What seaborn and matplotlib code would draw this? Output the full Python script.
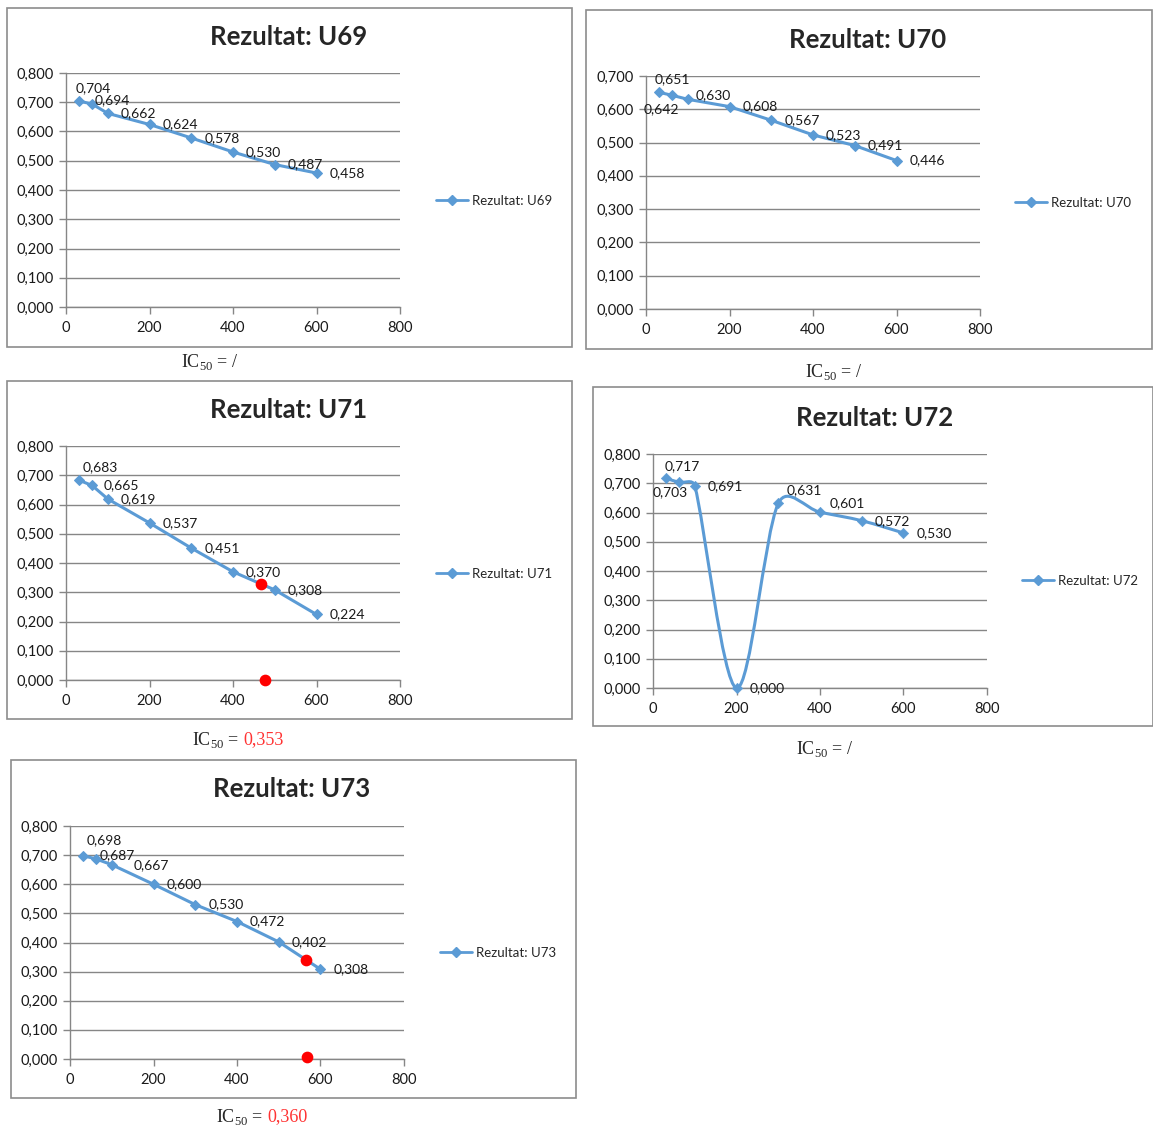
import matplotlib
matplotlib.use("Agg")
import matplotlib.pyplot as plt
import numpy as np
import pandas as pd
import seaborn as sns
from matplotlib.path import Path
from matplotlib.patches import PathPatch, Rectangle
from matplotlib.lines import Line2D
from matplotlib.ticker import FuncFormatter, MultipleLocator

# Data
conc = [31.25, 62.5, 100, 200, 300, 400, 500, 600]
u69 = [0.704, 0.694, 0.662, 0.624, 0.578, 0.530, 0.487, 0.458]
u70 = [0.651, 0.642, 0.630, 0.608, 0.567, 0.523, 0.491, 0.446]
u71 = [0.683, 0.665, 0.619, 0.537, 0.451, 0.370, 0.308, 0.224]
u72 = [0.717, 0.703, 0.691, 0.000, 0.631, 0.601, 0.572, 0.530]
u73 = [0.698, 0.687, 0.667, 0.600, 0.530, 0.472, 0.402, 0.308]

# red IC50 marks (on the curve and on the x axis)
u71_mark_x = [468, 477]
u71_mark_y = [0.328, 0.0]
u73_mark_x = [565, 567]
u73_mark_y = [0.339, 0.007]

ic50_u71 = "0,353"
ic50_u73 = "0,360"

W, H = 1153, 1131
BLUE = "#5B9BD5"
GRAY = "#868686"

sns.set_theme(style="white")
plt.rcParams["font.family"] = ["Lato", "DejaVu Sans"]
plt.rcParams["mathtext.fontset"] = "custom"
plt.rcParams["mathtext.rm"] = "Liberation Serif"

fig = plt.figure(figsize=(W / 100, H / 100), dpi=100)


def px_box(l, t, r, b):
    return [l / W, 1 - b / H, (r - l) / W, (b - t) / H]


def fmt(v):
    return f"{v:.3f}".replace(".", ",")


def clamp(vec, limit):
    n = np.hypot(*vec)
    return vec if n <= limit else vec * limit / n


def smooth_path(ax, xs, ys):
    # Excel-like smoothed line: catmull-rom bezier, control arms kept short
    pts = ax.transData.transform(np.column_stack([xs, ys]))
    n = len(pts)
    verts = [pts[0]]
    codes = [Path.MOVETO]
    for i in range(n - 1):
        p0, p1 = pts[max(i - 1, 0)], pts[i]
        p2, p3 = pts[i + 1], pts[min(i + 2, n - 1)]
        half = np.hypot(*(p2 - p1)) / 2
        c1 = p1 + clamp((p2 - p0) / 6, half)
        c2 = p2 - clamp((p3 - p1) / 6, half)
        verts += [c1, c2, p2]
        codes += [Path.CURVE4] * 3
    data = ax.transData.inverted().transform(np.array(verts))
    return Path(data, codes)


def panel(name, ys, axbox, frame, title_xy, legend_xy, caption_xy, ymax,
          offsets, ic50=None, marks=None, smooth=False):
    l, t, r, b = frame
    fig.patches.append(Rectangle((l / W, 1 - b / H), (r - l) / W, (b - t) / H,
                                 transform=fig.transFigure, fill=False,
                                 ec="#8c8c8c", lw=1.2))
    ax = fig.add_axes(px_box(*axbox))
    ax.set_xlim(0, 800)
    ax.set_ylim(0, ymax)
    df = pd.DataFrame({"x": conc, "y": ys})
    if smooth:
        ax.add_patch(PathPatch(smooth_path(ax, conc, ys), fill=False, ec=BLUE,
                               lw=2.2, clip_on=False))
        sns.scatterplot(data=df, x="x", y="y", ax=ax, marker="D", s=28,
                        color=BLUE, edgecolor=BLUE, zorder=3, clip_on=False)
    else:
        sns.lineplot(data=df, x="x", y="y", ax=ax, marker="D", markersize=5.2,
                     color=BLUE, lw=2.2, markeredgecolor=BLUE)
    if marks is not None:
        ax.scatter(marks[0], marks[1], s=55, color="#ff0000", zorder=5, clip_on=False)
    for i, (xv, yv) in enumerate(zip(conc, ys)):
        dx, dy = offsets.get(i, (13, 0))
        ax.annotate(fmt(yv), (xv, yv), xytext=(dx, dy), textcoords="offset pixels",
                    ha="left", va="center", fontsize=10, color="#1a1a1a")
    ax.set_xlim(0, 800)
    ax.set_ylim(0, ymax)
    ax.xaxis.set_major_locator(MultipleLocator(200))
    ax.yaxis.set_major_locator(MultipleLocator(0.1))
    ax.yaxis.set_major_formatter(FuncFormatter(lambda v, p: fmt(v)))
    ax.set_xlabel("")
    ax.set_ylabel("")
    ax.grid(axis="y", color=GRAY, lw=1)
    ax.set_axisbelow(True)
    for s in ["top", "right"]:
        ax.spines[s].set_visible(False)
    for s in ["left", "bottom"]:
        ax.spines[s].set_color(GRAY)
        ax.spines[s].set_linewidth(1)
    ax.tick_params(axis="both", direction="out", length=5, width=1, color=GRAY,
                   labelsize=10.5, labelcolor="#1a1a1a", left=True, bottom=True)
    ax.tick_params(axis="x", pad=5)
    ax.tick_params(axis="y", pad=4)

    fig.text(title_xy[0] / W, 1 - title_xy[1] / H, f"Rezultat: {name}",
             ha="center", va="center", fontsize=18.5, fontweight="bold")

    handle = Line2D([], [], color=BLUE, lw=2, marker="D", markersize=5.2)
    ax.legend([handle], [f"Rezultat: {name}"], loc="center left",
              bbox_to_anchor=(legend_xy[0] / W, 1 - legend_xy[1] / H),
              bbox_transform=fig.transFigure, frameon=False, fontsize=9.5,
              handlelength=2.4, handletextpad=0.3, borderpad=0, borderaxespad=0)

    cx, cy = caption_xy
    cap = fig.text(cx / W, 1 - cy / H, "IC$_{50}$ = " + ("/" if ic50 is None else ""),
                   ha="left", va="center", fontsize=13, family="Liberation Serif")
    if ic50 is not None:
        ax.annotate(ic50, xy=(1, 0.5), xycoords=cap, xytext=(3, 0),
                    textcoords="offset pixels", ha="left", va="center",
                    fontsize=13, family="Liberation Serif", color="#ff3333",
                    annotation_clip=False)
    return ax


panel("U69", u69, (66, 73, 400, 307), (7, 8, 572, 347), (289, 37), (436, 201),
      (181, 362), 0.8, {0: (-3, 13), 1: (3, 4)})
panel("U70", u70, (646, 76, 980, 309), (586, 10, 1152, 349), (868, 40), (1015, 203),
      (805, 372), 0.7, {0: (-4, 13), 1: (-28, -14), 2: (8, 4)})
panel("U71", u71, (66, 446, 400, 680), (7, 381, 572, 719), (289, 410), (436, 574),
      (192, 740), 0.8, {0: (4, 13), 1: (12, 0)}, ic50=ic50_u71,
      marks=(u71_mark_x, u71_mark_y))
panel("U72", u72, (653, 454, 987, 688), (593, 387, 1153, 726), (875, 418), (1022, 581),
      (796, 749), 0.8, {0: (-1, 12), 1: (-26, -10), 4: (8, 13), 5: (10, 9)},
      smooth=True)
panel("U73", u73, (70, 826, 404, 1059), (11, 760, 576, 1098), (292, 789), (440, 953),
      (216, 1117), 0.8, {0: (4, 16), 1: (4, 4), 2: (22, 0)}, ic50=ic50_u73,
      marks=(u73_mark_x, u73_mark_y))

fig.savefig("out.png", dpi=100)
